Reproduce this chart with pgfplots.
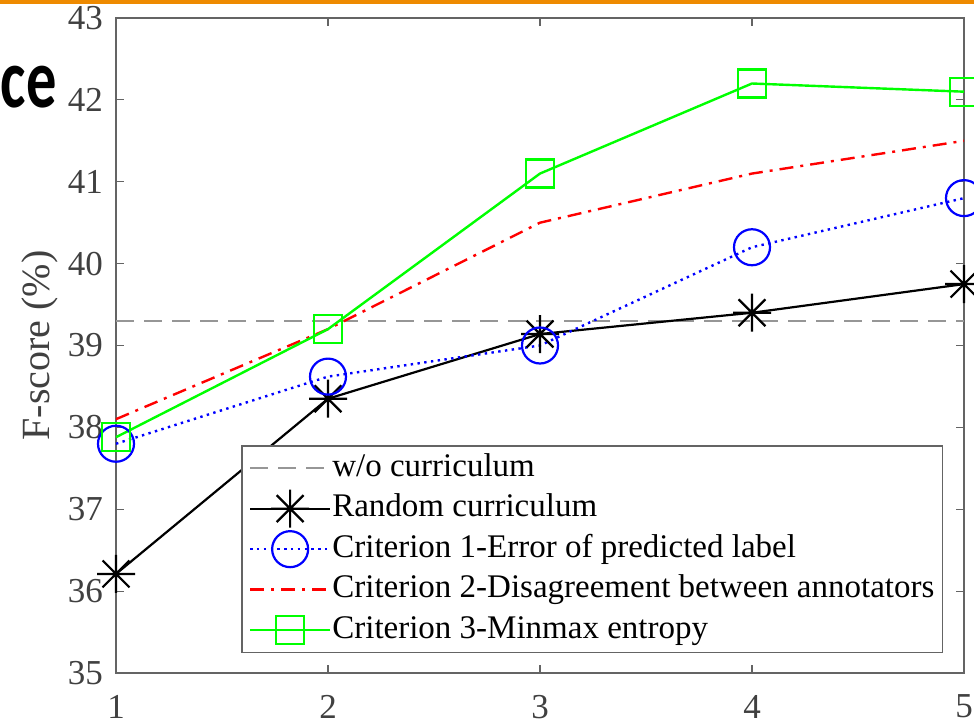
\documentclass[border=0pt]{standalone}
\usepackage{fontspec}
\setmainfont{Liberation Serif}
\newfontfamily\carlito{Carlito}
\usepackage{pgfplots}
\pgfplotsset{compat=1.18}
\definecolor{mgreen}{RGB}{0,255,0}
\definecolor{mred}{RGB}{255,0,0}
\definecolor{mblue}{RGB}{0,0,255}
\definecolor{mgray}{RGB}{150,150,150}
\definecolor{axgray}{RGB}{100,100,100}
\definecolor{ticklab}{RGB}{64,64,64}
\definecolor{orangebar}{RGB}{238,138,0}
\pgfdeclareplotmark{mstar}{%
 \pgfpathmoveto{\pgfqpoint{-\pgfplotmarksize}{0pt}}\pgfpathlineto{\pgfqpoint{\pgfplotmarksize}{0pt}}%
 \pgfpathmoveto{\pgfqpoint{0pt}{-\pgfplotmarksize}}\pgfpathlineto{\pgfqpoint{0pt}{\pgfplotmarksize}}%
 \pgfpathmoveto{\pgfqpoint{-0.7071\pgfplotmarksize}{-0.7071\pgfplotmarksize}}\pgfpathlineto{\pgfqpoint{0.7071\pgfplotmarksize}{0.7071\pgfplotmarksize}}%
 \pgfpathmoveto{\pgfqpoint{-0.7071\pgfplotmarksize}{0.7071\pgfplotmarksize}}\pgfpathlineto{\pgfqpoint{0.7071\pgfplotmarksize}{-0.7071\pgfplotmarksize}}%
 \pgfusepathqstroke}
\begin{document}
\begin{tikzpicture}
\useasboundingbox (0,0) rectangle (487pt,-361.5pt);
\clip (0,0) rectangle (487pt,-361.5pt);
\fill[orangebar] (0,0) rectangle (487pt,-2pt);
\begin{axis}[
  at={(58pt,-9pt)}, anchor=north west,
  scale only axis, width=424pt, height=327.5pt,
  xmin=1, xmax=5, ymin=35, ymax=43,
  xtick={1,2,3,4,5}, ytick={35,36,...,43},
  tick align=inside, major tick length=4pt,
  axis line style={axgray, line width=0.6pt},
  every tick/.style={axgray, line width=0.6pt},
  /pgf/number format/assume math mode=true,
  xticklabel style={font=\fontsize{17.5}{21}\selectfont, text=ticklab, yshift=-7.5pt},
  yticklabel style={font=\fontsize{17.5}{21}\selectfont, text=ticklab, xshift=-3pt},
  ylabel={F-score (\%)},
  ylabel style={at={(axis description cs:-0.09,0.5)}, anchor=center, font=\fontsize{20}{24}\selectfont, text=ticklab},
  clip=false,
  legend cell align=left,
  legend style={at={(0.9752,0.0305)}, anchor=south east, draw=axgray, line width=0.6pt, fill=white,
    font=\fontsize{16.5}{20}\selectfont, row sep=0pt, inner xsep=3.5pt, inner ysep=1pt,
    nodes={inner sep=0.5pt, text height=12pt, text depth=4pt, minimum height=20.25pt}},
  legend image code/.code={\draw[mark repeat=2,mark phase=2,#1] plot coordinates {(0pt,0pt)(20pt,0pt)(40pt,0pt)};},
]
\addplot[mgray, line width=1.1pt, dash pattern=on 9pt off 5pt] coordinates {(1,39.3)(5,39.3)};
\addlegendentry{w/o curriculum}
\addplot[black, line width=1.1pt, mark=mstar, mark size=9.5pt, mark options={solid, line width=1.1pt}] coordinates {(1,36.21)(2,38.35)(3,39.14)(4,39.4)(5,39.75)};
\addlegendentry{Random curriculum}
\addplot[mblue, line width=1.2pt, dash pattern=on 1.2pt off 2.2pt, mark=o, mark size=9pt, mark options={solid, line width=1.1pt}] coordinates {(1,37.8)(2,38.62)(3,39.0)(4,40.2)(5,40.8)};
\addlegendentry{Criterion 1-Error of predicted label}
\addplot[mred, line width=1.2pt, dash pattern=on 7pt off 3.5pt on 1.5pt off 3.5pt] coordinates {(1,38.1)(2,39.2)(3,40.5)(4,41.1)(5,41.5)};
\addlegendentry{Criterion 2-Disagreement between annotators}
\addplot[mgreen, line width=1.2pt, mark=square, mark size=7pt, mark options={solid, line width=1.1pt}] coordinates {(1,37.88)(2,39.2)(3,41.1)(4,42.2)(5,42.1)};
\addlegendentry{Criterion 3-Minmax entropy}
\end{axis}
\node[anchor=base east, inner sep=0pt, xscale=0.72, font={\carlito\bfseries\fontsize{42}{50}\selectfont}] at (28.5pt,-53.5pt) {ce};
\end{tikzpicture}
\end{document}
